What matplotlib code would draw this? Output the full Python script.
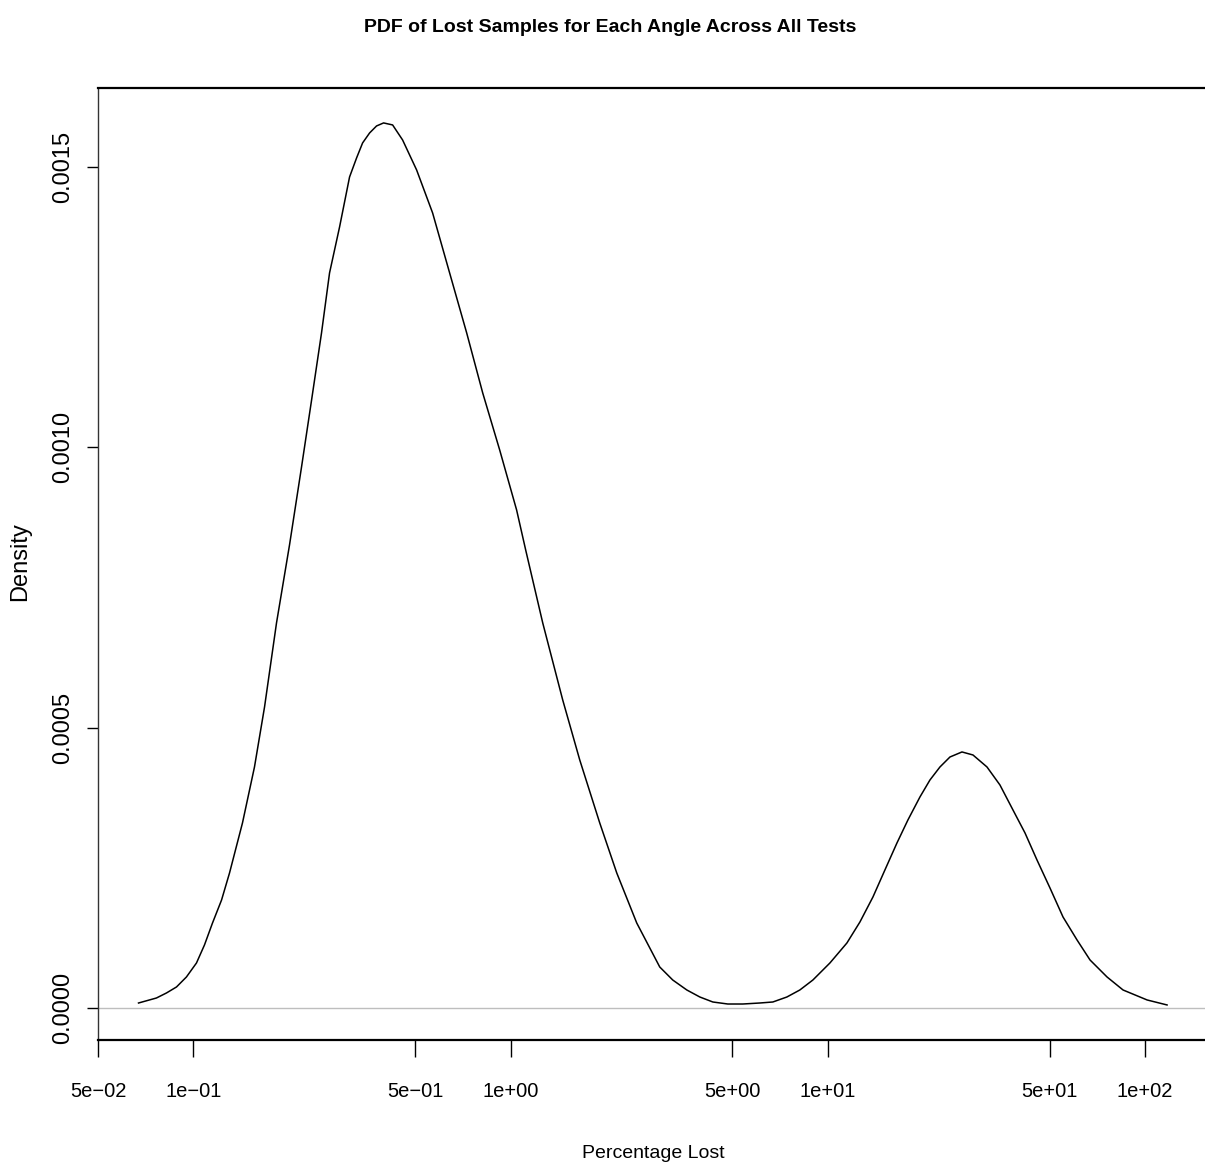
import numpy as np
import matplotlib
matplotlib.use("Agg")
import matplotlib.pyplot as plt
from matplotlib.ticker import FixedLocator, NullLocator

# density curve (percentage lost, density)
pct_lost = [0.0671, 0.0764, 0.0822, 0.0884, 0.0950, 0.1022, 0.1083, 0.1148,
            0.1226, 0.1299, 0.1427, 0.1557, 0.1675, 0.1827, 0.2008, 0.2191,
            0.2357, 0.2533, 0.2685, 0.2888, 0.3105, 0.3267, 0.3413, 0.3591,
            0.3777, 0.3975, 0.4244, 0.4563, 0.5052, 0.5674, 0.6420, 0.7266,
            0.8163, 0.9232, 1.044, 1.115, 1.262, 1.459, 1.651, 1.909, 2.160,
            2.497, 2.951, 3.243, 3.592, 3.948, 4.338, 4.836, 5.394, 6.102,
            6.707, 7.426, 8.158, 8.968, 10.15, 11.48, 12.62, 13.87, 15.13,
            16.51, 17.88, 19.51, 20.98, 22.56, 24.26, 26.47, 28.67, 31.74,
            34.87, 38.33, 41.83, 45.63, 50.14, 55.12, 61.03, 67.07, 75.88,
            85.23, 101.5, 117.3]
density = [0.0000089, 0.0000178, 0.0000268, 0.0000375, 0.0000553, 0.0000803,
           0.0001124, 0.0001516, 0.0001926, 0.0002408, 0.0003300, 0.0004299,
           0.0005369, 0.0006868, 0.0008259, 0.0009650, 0.0010846, 0.0012041,
           0.0013111, 0.0013932, 0.0014823, 0.0015162, 0.0015430, 0.0015608,
           0.0015733, 0.0015787, 0.0015751, 0.0015483, 0.0014948, 0.0014181,
           0.0013111, 0.0012041, 0.0010970, 0.0009954, 0.0008883, 0.0008170,
           0.0006868, 0.0005494, 0.0004424, 0.0003300, 0.0002408, 0.0001516,
           0.0000731, 0.0000499, 0.0000321, 0.0000196, 0.0000107, 0.0000071,
           0.0000071, 0.0000089, 0.0000107, 0.0000196, 0.0000321, 0.0000499,
           0.0000803, 0.0001159, 0.0001534, 0.0001980, 0.0002462, 0.0002943,
           0.0003354, 0.0003764, 0.0004067, 0.0004299, 0.0004477, 0.0004567,
           0.0004513, 0.0004299, 0.0003978, 0.0003532, 0.0003122, 0.0002640,
           0.0002141, 0.0001623, 0.0001213, 0.0000856, 0.0000553, 0.0000321,
           0.0000143, 0.0000054]

xticks = [0.05, 0.1, 0.5, 1, 5, 10, 50, 100]
xtick_labels = ["5e\u221202", "1e\u221201", "5e\u221201", "1e+00",
                "5e+00", "1e+01", "5e+01", "1e+02"]
yticks = [0.0, 0.0005, 0.0010, 0.0015]
ytick_labels = ["0.0000", "0.0005", "0.0010", "0.0015"]

font = ["Liberation Sans", "DejaVu Sans"]

fig = plt.figure(figsize=(12.05, 11.72), dpi=100)
ax = fig.add_axes([98 / 1205, 1 - 1040 / 1172, 1 - 98 / 1205, (1040 - 88) / 1172])

ax.axhline(0, color="#bebebe", lw=1.0, zorder=1)
ax.plot(pct_lost, density, color="black", lw=1.1, zorder=2)

ax.set_xscale("log")
ax.set_xlim(0.05, 154.5)
ax.set_ylim(-0.0000571, 0.001641)

ax.xaxis.set_major_locator(FixedLocator(xticks))
ax.xaxis.set_minor_locator(NullLocator())
ax.set_xticklabels(xtick_labels, family=font, fontsize=14.5)
ax.set_yticks(yticks)
ax.set_yticklabels(ytick_labels, family=font, fontsize=17, rotation=90, va="center")

ax.tick_params(axis="x", length=12, width=1.0, pad=18, direction="out")
ax.tick_params(axis="y", length=8, width=1.0, pad=9, direction="out")

ax.spines["right"].set_visible(False)
ax.spines["top"].set_linewidth(1.6)
ax.spines["bottom"].set_linewidth(1.6)
ax.spines["left"].set_linewidth(1.0)
ax.spines["left"].set_color("#333333")

fig.text(653 / 1205, 1 - 1153 / 1172, "Percentage Lost", family=font,
         fontsize=14, ha="center", va="center")
fig.text(20 / 1205, 1 - 562 / 1172, "Density", family=font, fontsize=17,
         rotation=90, ha="center", va="center")
fig.text(610 / 1205, 1 - 27 / 1172, "PDF of Lost Samples for Each Angle Across All Tests",
         family=font, fontsize=14, fontweight="bold", ha="center", va="center")

fig.savefig("out.png", dpi=100)
